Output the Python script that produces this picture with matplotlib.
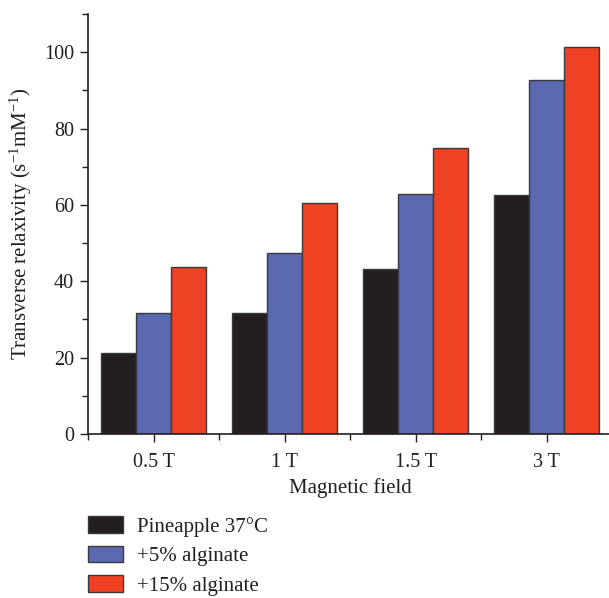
import numpy as np
import matplotlib
matplotlib.use('Agg')
import matplotlib.pyplot as plt
from matplotlib.ticker import MultipleLocator, FixedLocator

plt.rcParams['font.family'] = ['Liberation Serif', 'DejaVu Serif']
plt.rcParams['mathtext.fontset'] = 'custom'
plt.rcParams['mathtext.rm'] = 'Liberation Serif'
plt.rcParams['mathtext.it'] = 'Liberation Serif:italic'

# data
fields = ['0.5 T', '1 T', '1.5 T', '3 T']
pineapple = [21.2, 31.8, 43.1, 62.6]
alginate5 = [31.6, 47.3, 62.8, 92.7]
alginate15 = [43.8, 60.5, 74.9, 101.4]
series_names = ['Pineapple 37°C', '+5% alginate', '+15% alginate']
colors = ['#231f20', '#5a69b0', '#ef4123']

fig = plt.figure(figsize=(6.09, 5.98), dpi=100)
ax = fig.add_axes([0.1445, 0.2742, 0.861, 0.7024])

x = np.arange(len(fields))
w = 0.267
for i, (vals, name) in enumerate(zip([pineapple, alginate5, alginate15], series_names)):
    ax.bar(x + (i - 1) * w, vals, width=w, color=colors[i], edgecolor='#3a3a3a',
           linewidth=1.0, label=name)

ax.set_xlim(-0.5, 3.5)
ax.set_ylim(0, 110)
ax.set_xticks(x)
ax.set_xticklabels(fields)
ax.xaxis.set_minor_locator(FixedLocator([-0.5, 0.5, 1.5, 2.5]))
ax.yaxis.set_major_locator(MultipleLocator(20))
ax.yaxis.set_minor_locator(MultipleLocator(10))
ax.tick_params(which='major', direction='out', length=6, width=1, labelsize=14.5, colors='#231f20')
ax.tick_params(which='minor', direction='out', length=4, width=1, colors='#231f20')
ax.tick_params(axis='x', pad=8)
ax.tick_params(axis='y', pad=4)

for s in ['top', 'right']:
    ax.spines[s].set_visible(False)
for s in ['left', 'bottom']:
    ax.spines[s].set_linewidth(1.2)
    ax.spines[s].set_color('#231f20')

ax.set_xlabel('Magnetic field', fontsize=15, color='#231f20', labelpad=4)
ax.set_ylabel('Transverse relaxivity (s$^{-1}$mM$^{-1}$)', fontsize=15, color='#231f20', labelpad=7)

leg = fig.legend(loc='upper left', bbox_to_anchor=(0.1445, 0.137), frameon=False,
                 fontsize=15, handlelength=1.68, handleheight=0.85, handletextpad=0.67,
                 labelspacing=0.44, borderaxespad=0, borderpad=0)
for t in leg.get_texts():
    t.set_color('#231f20')

fig.savefig('out.png', dpi=100)
